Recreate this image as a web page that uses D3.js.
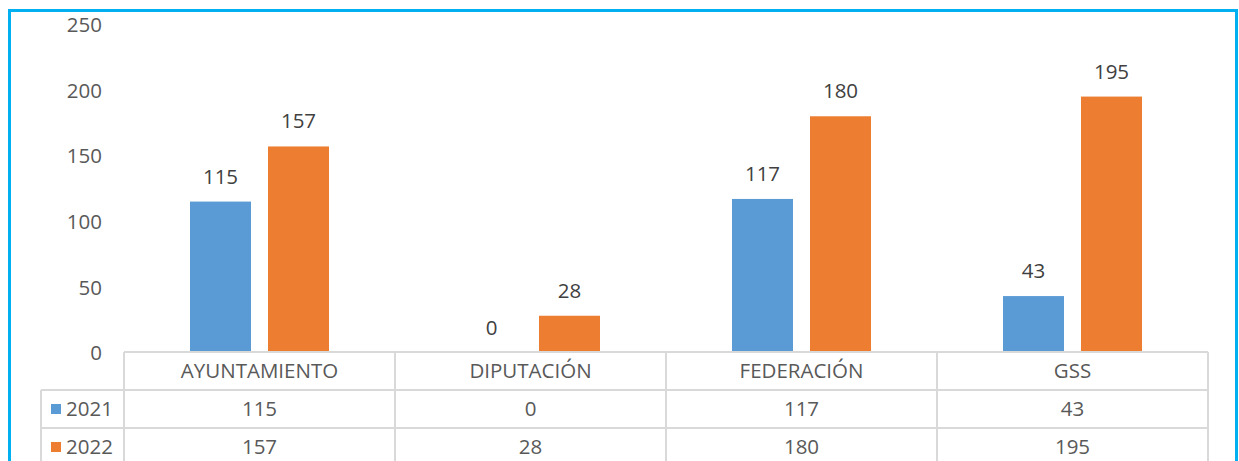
<!DOCTYPE html>
<html><head><meta charset="utf-8">
<script src="https://cdn.jsdelivr.net/npm/d3@7"></script>
<style>html,body{margin:0;padding:0;background:#fff;overflow:hidden}</style>
</head><body>
<svg id="chart" width="1239" height="461"></svg>
<script>
const categories = ["AYUNTAMIENTO", "DIPUTACIÓN", "FEDERACIÓN", "GSS"];
const seriesNames = ["2021", "2022"];
const values2021 = [115, 0, 117, 43];
const values2022 = [157, 28, 180, 195];
const yTicks = [0, 50, 100, 150, 200, 250];
const colors = ["#5b9bd5", "#ed7d31"];

const series = [values2021, values2022];
const svg = d3.select("#chart");
const font = "'Open Sans', sans-serif";
const textColor = "#595959";
const gridColor = "#d9d9d9";

// frame
svg.append("rect").attr("x", 9.5).attr("y", 10.5).attr("width", 1227).attr("height", 470)
  .attr("fill", "none").attr("stroke", "#00b0f0").attr("stroke-width", 3);

const left = 124, right = 1208;
const y = d3.scaleLinear().domain([0, 250]).range([352.5, 24.4]);
const x = d3.scaleBand().domain(categories).range([left, right]).padding(0);
const bw = 61, gap = 17;

// y axis labels
const yAxis = d3.axisLeft(y).tickValues(yTicks).tickSize(0).tickPadding(0);
const ga = svg.append("g").attr("transform", "translate(102,0)").call(yAxis);
ga.select(".domain").remove();
ga.selectAll("text").attr("font-family", font).attr("font-size", 20.5).attr("fill", textColor)
  .attr("dy", "0.35em");

// bars
series.forEach((vals, si) => {
  const off = si === 0 ? -gap / 2 - bw : gap / 2;
  svg.append("g").selectAll("rect").data(vals).join("rect")
    .attr("x", (d, i) => x(categories[i]) + x.bandwidth() / 2 + off)
    .attr("y", d => y(d))
    .attr("width", bw)
    .attr("height", d => y(0) - y(d))
    .attr("fill", colors[si]);
  svg.append("g").selectAll("text").data(vals).join("text")
    .attr("x", (d, i) => x(categories[i]) + x.bandwidth() / 2 + off + bw / 2)
    .attr("y", d => y(d) - 18)
    .attr("text-anchor", "middle")
    .attr("font-family", font).attr("font-size", 20.5).attr("fill", "#404040")
    .text(d => d);
});

// data table
const rowY = [352, 390, 428, 466];
const tg = svg.append("g").attr("stroke", gridColor).attr("stroke-width", 2).attr("fill", "none");
tg.append("line").attr("x1", left).attr("x2", right).attr("y1", rowY[0]).attr("y2", rowY[0]);
tg.append("line").attr("x1", 41).attr("x2", right).attr("y1", rowY[1]).attr("y2", rowY[1]);
tg.append("line").attr("x1", 41).attr("x2", right).attr("y1", rowY[2]).attr("y2", rowY[2]);
tg.append("line").attr("x1", 41).attr("x2", right).attr("y1", rowY[3]).attr("y2", rowY[3]);
tg.append("line").attr("x1", 41).attr("x2", 41).attr("y1", rowY[1]).attr("y2", 470);
const cols = categories.map(c => x(c)).concat([right]);
cols.forEach(cx => tg.append("line").attr("x1", cx).attr("x2", cx).attr("y1", rowY[0]).attr("y2", 470));

// header row
svg.append("g").selectAll("text").data(categories).join("text")
  .attr("x", d => x(d) + x.bandwidth() / 2)
  .attr("y", (rowY[0] + rowY[1]) / 2)
  .attr("dy", "0.36em")
  .attr("text-anchor", "middle")
  .attr("font-family", font).attr("font-size", 20.5).attr("fill", textColor)
  .text(d => d);

// value rows
series.forEach((vals, si) => {
  const cy = (rowY[si + 1] + rowY[si + 2]) / 2;
  svg.append("rect").attr("x", 51).attr("y", cy - 5).attr("width", 10).attr("height", 10).attr("fill", colors[si]);
  svg.append("text").attr("x", 66).attr("y", cy).attr("dy", "0.36em")
    .attr("font-family", font).attr("font-size", 20.5).attr("fill", textColor).text(seriesNames[si]);
  svg.append("g").selectAll("text").data(vals).join("text")
    .attr("x", (d, i) => x(categories[i]) + x.bandwidth() / 2)
    .attr("y", cy).attr("dy", "0.36em")
    .attr("text-anchor", "middle")
    .attr("font-family", font).attr("font-size", 20.5).attr("fill", textColor)
    .text(d => d);
});
</script>
</body></html>
